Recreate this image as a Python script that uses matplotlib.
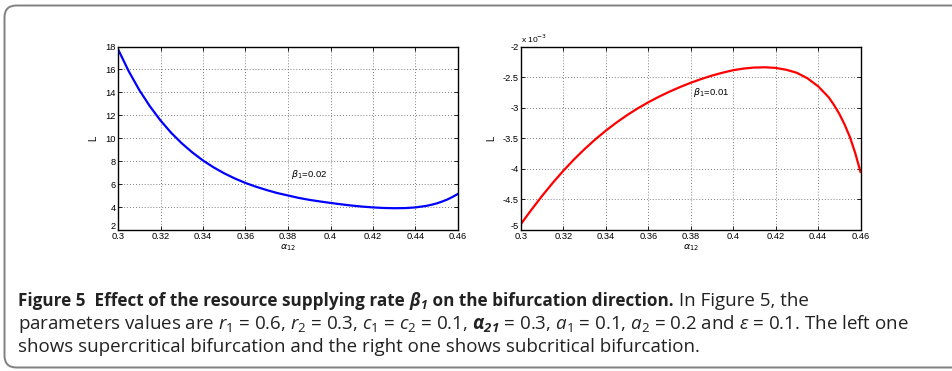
import matplotlib
matplotlib.use("Agg")
import matplotlib.pyplot as plt
from matplotlib.patches import FancyBboxPatch
from matplotlib.ticker import FuncFormatter
from matplotlib.transforms import ScaledTranslation

plt.rcParams['font.family'] = ['Liberation Sans', 'DejaVu Sans']
plt.rcParams['axes.unicode_minus'] = False
plt.rcParams['mathtext.fontset'] = 'custom'
plt.rcParams['mathtext.rm'] = 'Open Sans'
plt.rcParams['mathtext.it'] = 'Open Sans:italic'
plt.rcParams['mathtext.bf'] = 'Open Sans:bold:italic'

# alpha_12 samples shared by both panels
alpha12 = [0.300, 0.305, 0.310, 0.315, 0.320, 0.325, 0.330, 0.335, 0.340,
           0.345, 0.350, 0.355, 0.360, 0.365, 0.370, 0.375, 0.380, 0.385,
           0.390, 0.395, 0.400, 0.405, 0.410, 0.415, 0.420, 0.425, 0.430,
           0.435, 0.440, 0.445, 0.4475, 0.450, 0.4525, 0.455, 0.4575, 0.460]

# beta_1 = 0.02 (supercritical)
L_left = [17.77, 15.86, 14.21, 12.79, 11.55, 10.48, 9.56, 8.76, 8.06,
          7.46, 6.94, 6.49, 6.10, 5.77, 5.48, 5.22, 5.01, 4.80,
          4.63, 4.49, 4.36, 4.24, 4.13, 4.04, 3.97, 3.92, 3.90,
          3.91, 3.97, 4.10, 4.20, 4.32, 4.48, 4.66, 4.89, 5.15]

# beta_1 = 0.01 (subcritical), in units of 1e-3
L_right = [-4.900, -4.665, -4.440, -4.228, -4.030, -3.846, -3.676, -3.519, -3.375,
           -3.243, -3.122, -3.012, -2.912, -2.821, -2.738, -2.662, -2.593, -2.531,
           -2.476, -2.428, -2.388, -2.360, -2.344, -2.340, -2.350, -2.380, -2.430,
           -2.520, -2.650, -2.830, -2.955, -3.100, -3.275, -3.480, -3.740, -4.050]

x_ticks = [0.3, 0.32, 0.34, 0.36, 0.38, 0.4, 0.42, 0.44, 0.46]
left_yticks = [2, 4, 6, 8, 10, 12, 14, 16, 18]
right_yticks = [-5, -4.5, -4, -3.5, -3, -2.5, -2]

W, H = 952, 371
fig = plt.figure(figsize=(W / 100, H / 100), dpi=100)
fig.patch.set_facecolor('white')

# rounded frame around figure + caption
bg = fig.add_axes([0, 0, 1, 1])
bg.set_xlim(0, W)
bg.set_ylim(H, 0)
bg.axis('off')
bg.add_patch(FancyBboxPatch((4.5, 5.5), 1100, 362,
                            boxstyle="round,pad=0,rounding_size=12",
                            fc='none', ec='#808080', lw=1.4))


def style_axes(ax, yticks):
    ax.set_xlim(0.3, 0.46)
    ax.set_xticks(x_ticks)
    ax.set_yticks(yticks)
    fmt = FuncFormatter(lambda v, p: '%g' % v)
    ax.xaxis.set_major_formatter(fmt)
    ax.yaxis.set_major_formatter(fmt)
    ax.tick_params(direction='in', length=3, width=0.6, labelsize=6.7,
                   top=True, right=True, pad=1.5)
    ax.grid(True, linestyle=(0, (1, 2.5)), color='#555555', linewidth=0.6)
    for s in ax.spines.values():
        s.set_linewidth(1.0)
    ax.set_xlabel(r'$\alpha_{12}$', fontsize=6.8, labelpad=1,
                  math_fontfamily='dejavusans')
    ax.set_ylabel('L', fontsize=7, labelpad=5)
    # lift the lowest y label a little so it sits above the first x label
    lbl = ax.get_yticklabels()[0]
    lbl.set_transform(lbl.get_transform() + ScaledTranslation(0, 3.5 / 72, fig.dpi_scale_trans))


axL = fig.add_axes([118 / W, 1 - 230 / H, 340 / W, 183.5 / H])
axL.plot(alpha12, L_left, color='#0000ff', lw=1.6)
axL.set_ylim(2, 18)
style_axes(axL, left_yticks)
axL.text(0.3815, 6.8, r'$\beta_1$=0.02', fontsize=6.8, va='center',
         math_fontfamily='dejavusans')

axR = fig.add_axes([521 / W, 1 - 230 / H, 339.5 / W, 183.5 / H])
axR.plot(alpha12, L_right, color='#ff0000', lw=1.6)
axR.set_ylim(-5, -2)
style_axes(axR, right_yticks)
axR.text(0.3812, -2.76, r'$\beta_1$=0.01', fontsize=6.8, va='center',
         math_fontfamily='dejavusans')
axR.text(0.0, 1.01, r'x 10$^{-3}$', transform=axR.transAxes, fontsize=6,
         va='bottom', ha='left', math_fontfamily='dejavusans')

# caption, pieces laid out one after another
renderer = fig.canvas.get_renderer()


def put(x, y, s, size=13.5, **kw):
    t = bg.text(x, y, s, fontsize=size, va='baseline', ha='left',
                family='Open Sans', color='#222222', **kw)
    bb = t.get_window_extent(renderer)
    return x + bb.width


x = put(18, 306.5, 'Figure 5  Effect of the resource supplying rate ',
        size=12.3, weight='bold')
x = put(x, 306.5, r'$\mathbf{\beta_1}$', size=12.3, weight='bold')
x = put(x, 306.5, ' on the bifurcation direction.', size=12.3, weight='bold')
put(x, 306.5, ' In Figure 5, the')
put(18, 329, r'parameters values are $r_1$ = 0.6, $r_2$ = 0.3, $c_1$ = $c_2$ = 0.1, '
             r'$\mathbf{\alpha_{21}}$ = 0.3, $a_1$ = 0.1, $a_2$ = 0.2 and $\varepsilon$ = 0.1. The left one')
put(18, 351.5, 'shows supercritical bifurcation and the right one shows subcritical bifurcation.')

fig.savefig('out.png', dpi=100)
